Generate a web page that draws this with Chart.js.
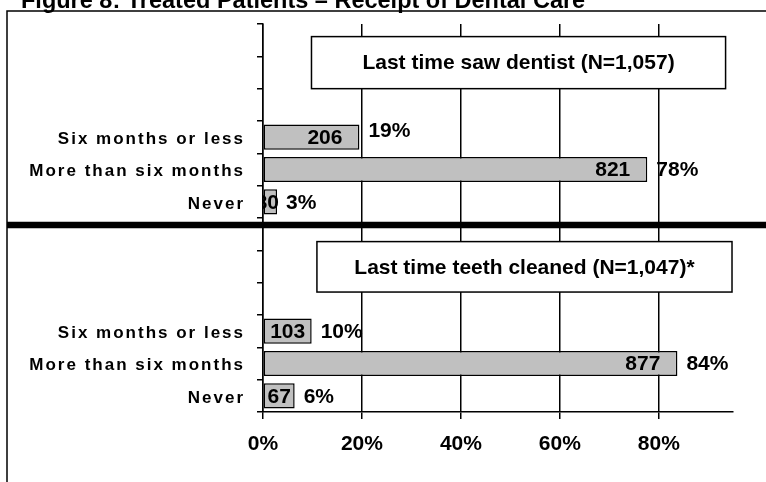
<!DOCTYPE html>
<html>
<head>
<meta charset="utf-8">
<title>Receipt of Dental Care</title>
<script src="https://cdn.jsdelivr.net/npm/chart.js@4.4.1/dist/chart.umd.min.js"></script>
<style>
  html, body { margin: 0; padding: 0; background: #fff; }
  canvas { display: block; }
</style>
</head>
<body>
<canvas id="dentalChart" width="766" height="482"></canvas>
<script>
const figureTitle = 'Figure 8: Treated Patients \u2013 Receipt of Dental Care';
const panelTitles = ['Last time saw dentist', 'Last time teeth cleaned'];
const panelNotes = ['', '*'];
const panelTotals = [1057, 1047];
const answers = ['Six months or less', 'More than six months', 'Never'];
const sawDentistCounts = [206, 821, 30];
const teethCleanedCounts = [103, 877, 67];
const percentTicks = [0, 20, 40, 60, 80];

const FONT = '"Liberation Sans", Arial, Helvetica, sans-serif';

// each panel gets three empty rows (room for its caption box), then one row per answer
const blankRows = 3;
const rowLabels = [];
const shares = [];
const counts = [];
[sawDentistCounts, teethCleanedCounts].forEach((panel, p) => {
  for (let i = 0; i < blankRows; i++) {
    rowLabels.push('');
    shares.push(null);
    counts.push(null);
  }
  panel.forEach((n, i) => {
    rowLabels.push(answers[i]);
    shares.push(n / panelTotals[p] * 100);
    counts.push(n);
  });
});

const decor = {
  id: 'decor',
  afterDatasetsDraw(chart, args, opts) {
    const { ctx, chartArea: area, scales: { x, y } } = chart;
    const bars = chart.getDatasetMeta(0).data;
    ctx.save();
    ctx.fillStyle = '#000';
    ctx.strokeStyle = '#000';
    ctx.textBaseline = 'middle';
    ctx.font = `bold 21px ${FONT}`;

    // counts sit inside the bar ends, shares just past them
    bars.forEach((bar, i) => {
      if (shares[i] == null) return;
      const start = bar.base, end = bar.x;
      const label = String(counts[i]);
      const w = ctx.measureText(label).width;
      const pad = Math.min(17, Math.max(-2, (end - start - w) / 2));
      ctx.save();
      ctx.beginPath();
      ctx.rect(area.left, area.top, area.width, area.height);
      ctx.clip();
      ctx.textAlign = 'right';
      ctx.fillText(label, end - pad, bar.y + 1);
      ctx.restore();
      const lift = (opts.lift && opts.lift[i]) || 0;
      ctx.textAlign = 'left';
      ctx.fillText(Math.round(shares[i]) + '%', end + 9, bar.y + 1 - lift);
    });

    // heavy rule between the two panels
    const sepY = y.getPixelForValue(blankRows + answers.length - 0.5) + 7;
    ctx.lineWidth = 6.5;
    ctx.beginPath();
    ctx.moveTo(7, sepY);
    ctx.lineTo(chart.width, sepY);
    ctx.stroke();

    // caption boxes
    ctx.lineWidth = 1.5;
    ctx.textAlign = 'center';
    opts.boxes.forEach((b, p) => {
      const x0 = x.getPixelForValue(b.from), x1 = x.getPixelForValue(b.to);
      const y0 = y.getPixelForValue(b.top), y1 = y.getPixelForValue(b.bottom);
      ctx.fillStyle = '#fff';
      ctx.fillRect(x0, y0, x1 - x0, y1 - y0);
      ctx.strokeRect(x0, y0, x1 - x0, y1 - y0);
      ctx.fillStyle = '#000';
      const n = panelTotals[p].toLocaleString('en-US');
      ctx.fillText(`${panelTitles[p]} (N=${n})${panelNotes[p]}`, (x0 + x1) / 2, (y0 + y1) / 2 + 1);
    });
    ctx.restore();
  },
  afterDraw(chart) {
    const { ctx, scales: { y } } = chart;
    ctx.save();
    ctx.fillStyle = '#000';
    ctx.strokeStyle = '#000';

    // outer frame (runs off the right and bottom edges)
    ctx.lineWidth = 1.5;
    ctx.strokeRect(7, 11, chart.width + 20, chart.height + 20);

    ctx.font = `bold 23.5px ${FONT}`;
    ctx.textAlign = 'left';
    ctx.textBaseline = 'alphabetic';
    ctx.fillText(figureTitle, 21, 8);

    // row labels, spaced out
    ctx.font = `bold 17px ${FONT}`;
    ctx.letterSpacing = '2px';
    ctx.textAlign = 'right';
    ctx.textBaseline = 'middle';
    rowLabels.forEach((label, i) => {
      if (!label) return;
      ctx.fillText(label, y.right - 18, y.getPixelForValue(i) + 2);
    });
    ctx.restore();
  }
};

new Chart(document.getElementById('dentalChart'), {
  type: 'bar',
  data: {
    labels: rowLabels,
    datasets: [{
      data: shares,
      backgroundColor: '#c0c0c0',
      borderColor: '#000',
      borderWidth: 1.5,
      borderSkipped: false,
      barPercentage: 0.78,
      categoryPercentage: 1,
    }],
  },
  options: {
    indexAxis: 'y',
    responsive: false,
    animation: false,
    layout: { padding: { top: 24, right: 33, left: 0, bottom: 0 } },
    plugins: {
      legend: { display: false },
      tooltip: { enabled: false },
      decor: {
        lift: { 3: 7 },
        boxes: [
          { from: 9.8, to: 93.5, top: -0.11, bottom: 1.5 },
          { from: 10.9, to: 94.8, top: 6.23, bottom: 7.79 },
        ],
      },
    },
    scales: {
      x: {
        min: 0,
        max: 95,
        afterBuildTicks: (scale) => {
          scale.ticks = percentTicks.map((v) => ({ value: v }));
        },
        afterFit: (scale) => { scale.height = 70; },
        ticks: {
          callback: (v) => v + '%',
          color: '#000',
          font: { family: FONT, size: 21, weight: 'bold' },
          padding: 13,
          maxRotation: 0,
        },
        grid: { color: '#000', lineWidth: 1.5, tickLength: 7 },
        border: { color: '#000', width: 1.5 },
      },
      y: {
        afterFit: (scale) => { scale.width = 263; },
        ticks: { display: false },
        grid: { drawOnChartArea: false, color: '#000', lineWidth: 1.5, tickLength: 6 },
        border: { color: '#000', width: 1.5 },
      },
    },
  },
  plugins: [decor],
});
</script>
</body>
</html>
